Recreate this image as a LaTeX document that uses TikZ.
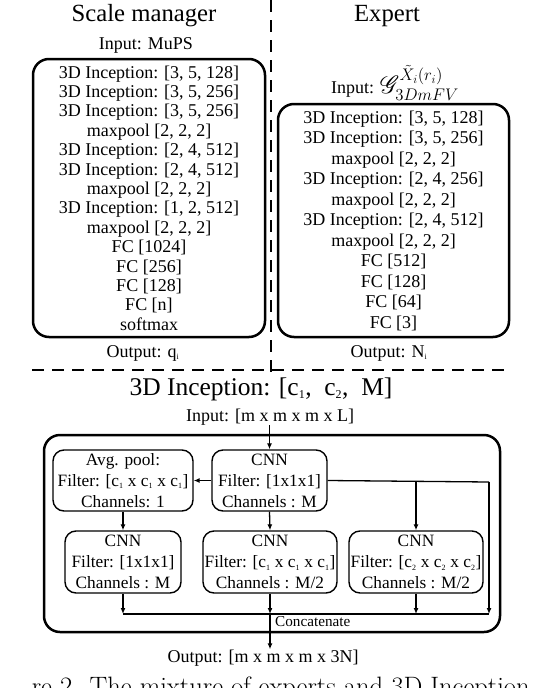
\documentclass[tikz,border=0pt]{standalone}
\usepackage{fix-cm}
\usepackage{amsmath}
\usepackage{mathrsfs}
\usepackage{fontspec}
\setmainfont{Liberation Serif}
\usetikzlibrary{arrows.meta,positioning,calc}
\newcommand{\lowi}[1]{\textsubscript{\fontsize{8}{8}\selectfont #1}}

\begin{document}
\begin{tikzpicture}[x=1pt, y=-1pt,
    title/.style={font=\fontsize{24.7}{26}\selectfont, anchor=base, inner sep=0pt},
    io/.style={font=\fontsize{18}{20}\selectfont, anchor=base, inner sep=0pt},
    net/.style={draw, line width=2.5pt, rounded corners=16pt, align=center, inner sep=0pt},
    inbox/.style={draw, line width=1.4pt, rounded corners=11pt, align=center, inner sep=0pt,
                  font=\fontsize{17.3}{21}\selectfont},
    wire/.style={line width=1.3pt},
    arr/.style={wire, -{Latex[length=6pt, width=5pt]}},
    sep/.style={line width=1.5pt, dash pattern=on 12pt off 8pt}
]
    \useasboundingbox (0,0) rectangle (544,688);

    \node[title] (smtitle) at (144,21) {Scale manager};
    \node[title] (extitle) at (387,21) {Expert};
    \draw[sep] (271,0) -- (271,375);
    \draw[sep] (32,370) -- (509,370);

    \node[io] (smin) at (146,49) {Input: MuPS};
    \node[net, minimum width=232pt, minimum height=278pt, font=\fontsize{18}{19.4}\selectfont] (sm) at (149,198)
        {3D Inception: [3, 5, 128]\\3D Inception: [3, 5, 256]\\3D Inception: [3, 5, 256]\\maxpool [2, 2, 2]\\
         3D Inception: [2, 4, 512]\\3D Inception: [2, 4, 512]\\maxpool [2, 2, 2]\\3D Inception: [1, 2, 512]\\
         maxpool [2, 2, 2]\\FC [1024]\\FC [256]\\FC [128]\\FC [n]\\softmax};
    \node[io] (smout) at (143,357) {Output: q\lowi{i}};

    \node[io] (exin) at (395,93) {Input: {\fontsize{24}{26}\selectfont$\mathscr{G}^{\tilde{X}_i(r_i)}_{3DmFV}$}};
    \node[net, minimum width=231pt, minimum height=233pt, font=\fontsize{18}{20.5}\selectfont] (ex) at (393.5,220.5)
        {3D Inception: [3, 5, 128]\\3D Inception: [3, 5, 256]\\maxpool [2, 2, 2]\\3D Inception: [2, 4, 256]\\
         maxpool [2, 2, 2]\\3D Inception: [2, 4, 512]\\maxpool [2, 2, 2]\\FC [512]\\FC [128]\\FC [64]\\FC [3]};
    \node[io] (exout) at (389,357) {Output: N\lowi{i}};

    \node[title, font=\fontsize{25.5}{27}\selectfont] (inctitle) at (261,395)
        {3D Inception: [c\textsubscript{\fontsize{12}{12}\selectfont 1},~ c\textsubscript{\fontsize{12}{12}\selectfont 2},~ M]};
    \node[io] (incin) at (270,421) {Input: [m x m x m x L]};
    \node[net, minimum width=456pt, minimum height=197pt] (inc) at (272,533.5) {};

    \node[inbox, minimum width=140pt, minimum height=61pt] (pool) at (123,480.5)
        {Avg. pool:\\Filter: [c\lowi{1} x c\lowi{1} x c\lowi{1}]\\Channels: 1};
    \node[inbox, minimum width=115pt, minimum height=61pt] (cnnA) at (269.5,480.5)
        {CNN\\Filter: [1x1x1]\\Channels : M};
    \node[inbox, minimum width=116pt, minimum height=62pt] (cnnB) at (123,562)
        {CNN\\Filter: [1x1x1]\\Channels : M};
    \node[inbox, minimum width=134pt, minimum height=62pt] (cnnC) at (270,562)
        {CNN\\Filter: [c\lowi{1} x c\lowi{1} x c\lowi{1}]\\Channels : M/2};
    \node[inbox, minimum width=134pt, minimum height=62pt] (cnnD) at (416,562)
        {CNN\\Filter: [c\lowi{2} x c\lowi{2} x c\lowi{2}]\\Channels : M/2};

    \coordinate (rt) at (489,482);
    \coordinate (cat) at (489,614);
    \node[io] (incout) at (263,662) {Output: [m x m x m x 3N]};
    \node[font=\fontsize{15.2}{16}\selectfont, anchor=base west, inner sep=0pt] (concat) at (275,626) {Concatenate};

    \draw[arr] (cnnA.north |- incin.south) -- (cnnA.north);
    \draw[arr] (cnnA.west) -- (pool.east);
    \draw[arr] (cnnA.south) -- (cnnC.north);
    \draw[arr] (pool.south) -- (cnnB.north);
    \draw[wire] (cnnA.east) -- (rt);
    \draw[arr] (cnnD.north |- rt) -- (cnnD.north);
    \draw[arr] (rt) -- (cat);
    \draw[wire] (cnnB.south |- cat) -- (cat);
    \draw[arr] (cnnB.south) -- (cnnB.south |- cat);
    \draw[arr] (cnnC.south) -- (cnnC.south |- cat);
    \draw[arr] (cnnD.south) -- (cnnD.south |- cat);
    \draw[arr] (cnnC.south |- cat) -- (cnnC.south |- incout.north);

    \node[font=\fontfamily{lmr}\fontsize{26.6}{28}\selectfont, anchor=base east, inner sep=0pt] (caption) at (530,695)
        {re 2. The mixture of experts and 3D Inception};
\end{tikzpicture}
\end{document}
